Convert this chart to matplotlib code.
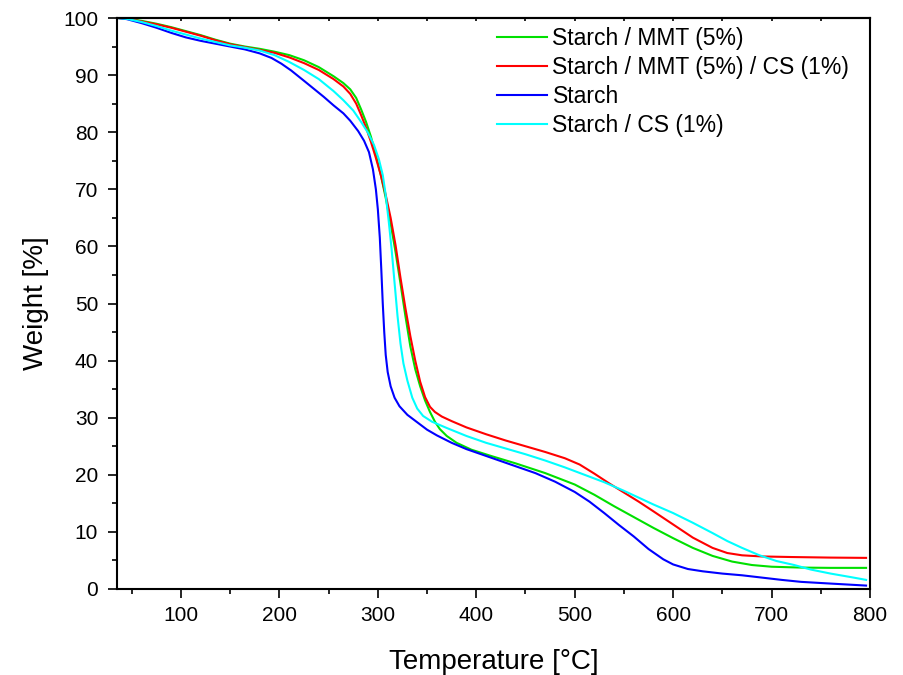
import matplotlib
matplotlib.use("Agg")
import matplotlib.pyplot as plt
import numpy as np

plt.rcParams['font.family'] = ['Liberation Sans', 'DejaVu Sans']

# --- data ---
t_mmt = [36, 45, 60, 75, 90, 105, 120, 135, 150, 165, 180, 195, 210, 225, 240, 255, 265, 272, 278, 283, 288, 293, 298, 303, 308, 313, 318, 323, 328, 333, 338, 343, 348, 353, 358, 363, 370, 380, 395, 415, 440, 470, 500, 520, 540, 560, 580, 600, 620, 640, 660, 680, 700, 730, 760, 796]
w_mmt = [100, 99.9, 99.5, 99.0, 98.4, 97.7, 97.0, 96.2, 95.5, 95.0, 94.6, 94.1, 93.5, 92.6, 91.4, 89.8, 88.6, 87.5, 86.0, 84.0, 81.8, 79.2, 76.0, 72.5, 68.5, 64.0, 59.0, 53.5, 47.8, 42.5, 38.5, 35.5, 33.0, 31.0, 29.3, 28.0, 26.8, 25.6, 24.4, 23.3, 22.0, 20.3, 18.3, 16.5, 14.5, 12.6, 10.7, 8.9, 7.2, 5.8, 4.8, 4.2, 3.9, 3.75, 3.7, 3.7]

t_mmt_cs = [36, 45, 60, 75, 90, 105, 120, 135, 150, 165, 180, 195, 210, 225, 240, 255, 265, 272, 278, 283, 288, 293, 298, 303, 308, 313, 318, 323, 328, 333, 338, 343, 348, 353, 358, 365, 375, 390, 410, 430, 450, 470, 490, 505, 520, 535, 550, 565, 580, 600, 620, 640, 655, 670, 690, 720, 760, 796]
w_mmt_cs = [100, 99.9, 99.4, 98.9, 98.3, 97.6, 96.9, 96.1, 95.4, 94.9, 94.4, 93.9, 93.1, 92.1, 90.9, 89.3, 88.0, 86.7, 85.0, 83.0, 80.8, 78.3, 75.5, 72.5, 69.0, 65.0, 60.2, 54.5, 49.2, 44.3, 40.0, 36.3, 33.6, 31.9, 31.0, 30.2, 29.4, 28.3, 27.1, 26.0, 25.0, 24.0, 22.9, 21.8, 20.2, 18.5, 16.9, 15.3, 13.6, 11.3, 9.0, 7.2, 6.3, 5.9, 5.7, 5.6, 5.5, 5.45]

t_starch = [36, 45, 60, 75, 90, 105, 120, 135, 150, 165, 180, 192, 202, 212, 225, 235, 245, 255, 265, 272, 280, 286, 291, 295, 298, 300, 302, 303.5, 305, 306.5, 308, 310, 313, 317, 322, 330, 340, 350, 360, 375, 390, 405, 420, 440, 460, 480, 500, 515, 530, 545, 560, 575, 590, 600, 615, 630, 650, 670, 690, 710, 730, 760, 796]
w_starch = [100, 99.8, 99.1, 98.3, 97.4, 96.6, 96.0, 95.5, 95.0, 94.5, 93.8, 93.0, 92.0, 90.8, 89.0, 87.6, 86.2, 84.7, 83.3, 82.0, 80.2, 78.5, 76.5, 73.5, 70.0, 66.5, 61.5, 56.0, 50.0, 45.0, 41.0, 38.0, 35.5, 33.5, 32.0, 30.5, 29.2, 27.9, 26.9, 25.6, 24.5, 23.6, 22.7, 21.5, 20.3, 18.8, 17.0, 15.3, 13.3, 11.2, 9.2, 7.0, 5.2, 4.3, 3.5, 3.1, 2.7, 2.4, 2.0, 1.6, 1.25, 0.95, 0.6]

t_cs = [36, 45, 60, 75, 90, 105, 120, 135, 150, 165, 180, 195, 210, 225, 240, 255, 265, 275, 283, 290, 296, 301, 305, 308, 311, 314, 317, 320, 323, 326, 330, 335, 340, 346, 355, 370, 390, 410, 430, 450, 470, 490, 510, 530, 550, 565, 580, 600, 620, 640, 655, 670, 687, 705, 723, 740, 760, 780, 796]
w_cs = [100, 99.85, 99.3, 98.6, 97.8, 97.1, 96.4, 95.8, 95.2, 94.8, 94.3, 93.5, 92.3, 90.9, 89.3, 87.2, 85.6, 83.8, 81.8, 79.9, 77.8, 75.3, 72.5, 69.0, 64.5, 59.5, 53.6, 47.8, 43.0, 39.5, 36.5, 33.5, 31.6, 30.3, 29.3, 28.2, 26.8, 25.6, 24.6, 23.6, 22.5, 21.3, 20.0, 18.7, 17.2, 16.0, 14.8, 13.3, 11.6, 9.8, 8.4, 7.2, 5.95, 4.9, 4.2, 3.4, 2.7, 2.1, 1.6]

labels = ["Starch / MMT (5%)", "Starch / MMT (5%) / CS (1%)", "Starch", "Starch / CS (1%)"]
colors = ["#00E000", "#FF0000", "#0000FF", "#00FFFF"]

xticks = [100, 200, 300, 400, 500, 600, 700, 800]
yticks = [0, 10, 20, 30, 40, 50, 60, 70, 80, 90, 100]

fig = plt.figure(figsize=(9.04, 6.75), dpi=100)
ax = fig.add_axes([117/904, 1-589/675, (870-117)/904, (589-18)/675])

series = [(t_mmt, w_mmt), (t_mmt_cs, w_mmt_cs), (t_starch, w_starch), (t_cs, w_cs)]
for (t, w), lab, c in zip(series, labels, colors):
    ax.plot(t, w, color=c, lw=1.5, label=lab, solid_joinstyle='round')

ax.set_xlim(35, 800)
ax.set_ylim(0, 100)
ax.set_xticks(xticks)
ax.set_yticks(yticks)
ax.set_xticks(np.arange(50, 800, 100), minor=True)
ax.set_yticks(np.arange(5, 100, 10), minor=True)
ax.tick_params(axis='both', which='major', direction='out', length=6.5, width=1.2, labelsize=15)
ax.tick_params(axis='both', which='minor', direction='out', length=3.6, width=1.2)
ax.tick_params(axis='x', which='major', pad=6)
ax.tick_params(axis='y', which='major', pad=7)
for s in ax.spines.values():
    s.set_linewidth(1.5)

sec = ax.secondary_xaxis('top')
sec.set_xticks(np.arange(50, 801, 50))
sec.set_xticklabels([])
sec.tick_params(direction='in', length=2.5, width=1.2)
sec.spines['top'].set_linewidth(1.5)

ax.set_xlabel("Temperature [°C]", fontsize=20, labelpad=17)
ax.set_ylabel("Weight [%]", fontsize=20, labelpad=10)

leg = ax.legend(loc='upper left', bbox_to_anchor=(0.484, 1.012), frameon=False, fontsize=16.5,
                handlelength=2.15, handletextpad=0.25, labelspacing=0.26, borderaxespad=0.3)

fig.savefig("out.png", dpi=100)
